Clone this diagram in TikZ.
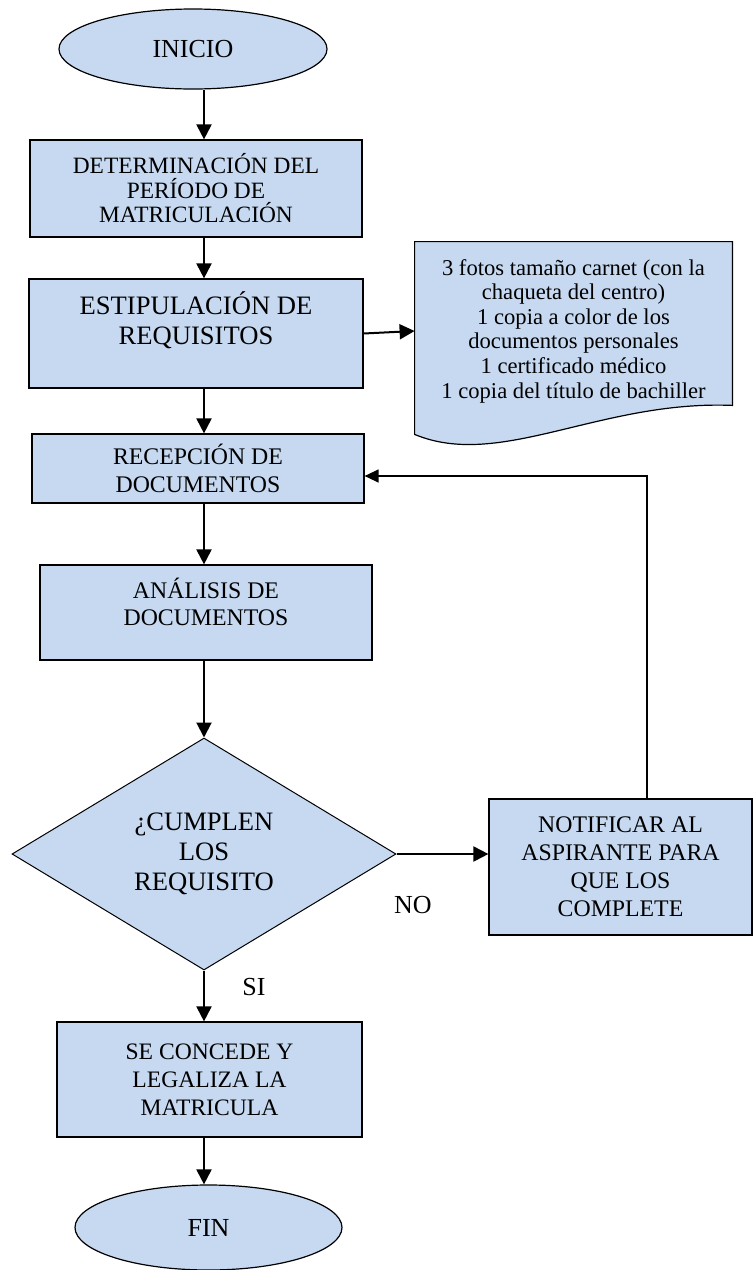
\documentclass[tikz,border=0pt]{standalone}
\usepackage{fontspec}
\setmainfont{Liberation Serif}
\usetikzlibrary{arrows.meta,calc,shapes.geometric,backgrounds}
\definecolor{cbox}{RGB}{198,217,241}
\tikzset{
  proc/.style={rectangle,fill=cbox,draw=black,line width=0.6pt,align=center,
    inner sep=2pt},
  term/.style={ellipse,fill=cbox,draw=black,line width=0.6pt,inner sep=0pt,
    font=\fontsize{13}{15}\selectfont},
  decis/.style={diamond,fill=cbox,draw=black,line width=0.5pt,align=center,
    inner sep=0pt,aspect=1.65},
  arr/.style={-{Triangle[length=7.5pt,width=7.5pt]},line width=1pt},
  arrback/.style={-{Triangle[length=7pt,width=6.5pt]},line width=0.65pt},
  lab/.style={font=\fontsize{13}{15}\selectfont}
}
\begin{document}
\begin{tikzpicture}[x=0.5pt,y=-0.5pt]
  \useasboundingbox (0,0) rectangle (753,1270);
  % main column
  \node[term,minimum width=134pt,minimum height=40pt] (start) at (193,49) {INICIO};
  \node[proc,minimum width=166pt,minimum height=48.5pt,
    font=\fontsize{11.7}{12.25}\selectfont] (det) at (196,188.5)
    {DETERMINACIÓN DEL\\PERÍODO DE\\MATRICULACIÓN};
  \node[proc,minimum width=167pt,minimum height=54.5pt,
    font=\fontsize{13.3}{15}\selectfont] (est) at (196,333.5)
    {ESTIPULACIÓN DE\\REQUISITOS\\[-4pt]\strut};
  \node[proc,minimum width=166pt,minimum height=34.5pt,
    font=\fontsize{11.9}{14}\selectfont] (rec) at (198,468.5)
    {RECEPCIÓN DE\\DOCUMENTOS};
  \node[proc,minimum width=166pt,minimum height=47.5pt,
    font=\fontsize{11.9}{13.5}\selectfont] (ana) at (206,612.5)
    {ANÁLISIS DE\\DOCUMENTOS\\[-7pt]\strut};
  \node[decis,minimum width=192pt,minimum height=116pt,
    font=\fontsize{13.3}{15}\selectfont] (dec) at (204,854)
    {¿CUMPLEN\\LOS\\REQUISITO};
  \node[proc,minimum width=152.5pt,minimum height=57.5pt,
    font=\fontsize{11.8}{14}\selectfont] (legal) at (209.5,1079.5)
    {SE CONCEDE Y\\LEGALIZA LA\\MATRICULA};
  \node[term,minimum width=133.5pt,minimum height=42.5pt] (fin) at (208.5,1227.5) {FIN};
  % side nodes
  \node[align=center,minimum width=158.5pt,minimum height=89pt,inner sep=0pt,
    font=\fontsize{11.3}{12.3}\selectfont] (doc) at (573.5,331)
    {3 fotos tamaño carnet (con la\\chaqueta del centro)\\1 copia a color de los\\
     documentos personales\\1 certificado médico\\1 copia del título de bachiller};
  \begin{scope}[on background layer]
    \draw[fill=cbox,line width=0.6pt] (doc.north west) -- (doc.north east)
      -- ([yshift=7.5pt]doc.south east) .. controls (600,400) and (500,470)
      .. ([yshift=-7pt]doc.south west) -- cycle;
  \end{scope}
  \node[proc,minimum width=131.5pt,minimum height=68pt,
    font=\fontsize{11.9}{14}\selectfont] (notif) at (620.5,867)
    {NOTIFICAR AL\\ASPIRANTE PARA\\QUE LOS\\COMPLETE};
  \node[lab] (no) at (413,905) {NO};
  \node[lab] (si) at (254,987) {SI};
  \coordinate (back) at (647,476);
  % connectors
  \draw[arr] (start.south -| dec.north) -- (det.north -| dec.north);
  \draw[arr] (det.south -| dec.north) -- (est.north -| dec.north);
  \draw[arr] (est.south -| dec.north) -- (rec.north -| dec.north);
  \draw[arr] (rec.south -| dec.north) -- (ana.north -| dec.north);
  \draw[arr] (ana.south -| dec.north) -- (dec.north);
  \draw[arr] (dec.south) -- (legal.north -| dec.south);
  \draw[arr] (legal.south -| dec.south) -- (fin.north -| dec.south);
  \draw[arr] (est.east) -- (doc.west);
  \draw[arr] (dec.east) -- (dec.east -| notif.west);
  \draw[arrback] (notif.north -| back) -- (back) -- (rec.east |- back);
\end{tikzpicture}
\end{document}
